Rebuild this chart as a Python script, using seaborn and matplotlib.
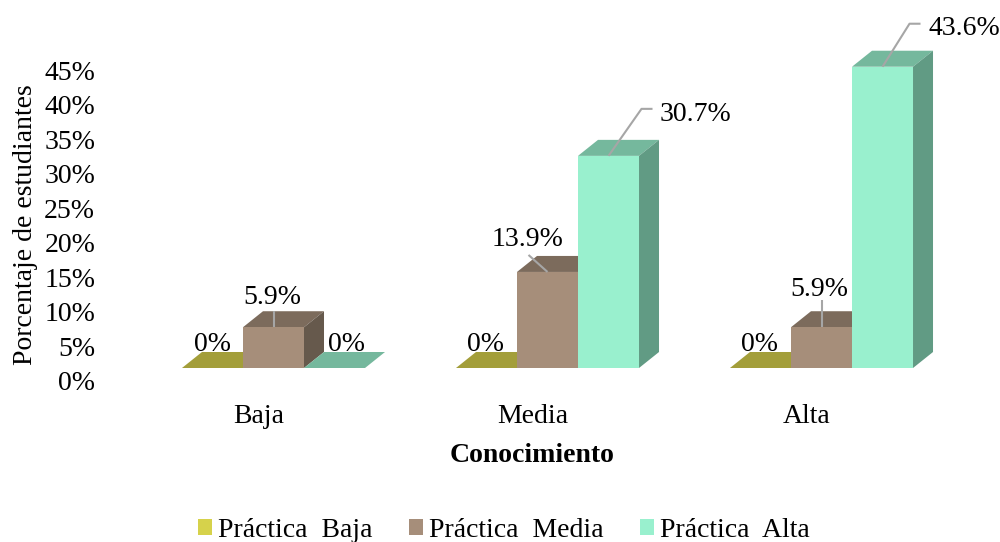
import matplotlib
matplotlib.use("Agg")
import matplotlib.pyplot as plt
import matplotlib.transforms as mtransforms
from matplotlib.patches import Polygon, Patch
import pandas as pd
import seaborn as sns

# ---- data ----
categories = ["Baja", "Media", "Alta"]
practica_baja = [0, 0, 0]
practica_media = [5.9, 13.9, 5.9]
practica_alta = [0, 30.7, 43.6]
series_names = ["Práctica  Baja", "Práctica  Media", "Práctica  Alta"]
y_ticks = list(range(0, 50, 5))

# ---- style ----
front = ["#D6D24B", "#A68E7A", "#99F0CE"]
top = ["#A39E3A", "#7C6B5C", "#75B89D"]
side = ["#7E7A2E", "#66594C", "#619B84"]
leader = "#A6A6A6"
FS = 20
W, H = 1000, 542
DX, DY = 20, 16

sns.set_theme(style="white")
plt.rcParams["font.family"] = ["Liberation Serif", "DejaVu Serif"]
plt.rcParams["text.color"] = "black"

df = pd.DataFrame({
    "cat": categories * 3,
    "val": practica_baja + practica_media + practica_alta,
    "serie": sum([[s] * 3 for s in series_names], []),
})

fig = plt.figure(figsize=(W / 100, H / 100), dpi=100, facecolor="white")
ax = fig.add_axes([100 / W, (H - 400) / H, 900 / W, 400 / H])
sns.barplot(data=df, x="cat", y="val", hue="serie", order=categories,
            hue_order=series_names, palette=front, saturation=1,
            width=0.668, gap=0, legend=False, ax=ax, zorder=3, linewidth=0)

ax.set_xlim((100 - 273.5) / 274, (1000 - 273.5) / 274)
ax.set_ylim((368 - 400) / 6.91, 368 / 6.91)
for s in ax.spines.values():
    s.set_visible(False)
ax.set_yticks(y_ticks, [f"{v}%" for v in y_ticks])
ax.tick_params(axis="both", length=0, labelsize=FS, colors="black")
ax.tick_params(axis="y", pad=3.5)
ax.tick_params(axis="x", pad=3.2)
for t in ax.get_yticklabels():
    t.set_transform(t.get_transform() + mtransforms.Affine2D().translate(0, -13))
for t in ax.get_xticklabels():
    t.set_transform(t.get_transform() + mtransforms.Affine2D().translate(-15, 0))

ax.set_ylabel("Porcentaje de estudiantes", fontsize=FS, color="black", va="center")
ax.yaxis.set_label_coords((26 - 100) / 900, (400 - 225) / 400)
ax.set_xlabel("Conocimiento", fontsize=FS, fontweight="bold", color="black")
ax.xaxis.set_label_coords((532 - 100) / 900, (400 - 455) / 400)
ax.xaxis.label.set_va("center")

# 3-D faces built from the bars that seaborn drew
fig.canvas.draw()
ident = mtransforms.IdentityTransform()
# label offsets in pixels from the front-top-centre of each bar: (text dx, dy, leader points)
layout = {
    (0, 0): ((0, 23.5), []),
    (1, 0): ((-1, 30), [(0, 0), (0, 16)]),
    (2, 0): ((12, 23.5), []),
    (0, 1): ((-1, 23.5), []),
    (1, 1): ((-20, 32), [(0, 0), (-19, 17)]),
    (2, 1): ((87, 41.5), [(0, 0), (33, 47), (44, 47)]),
    (0, 2): ((-1, 23.5), []),
    (1, 2): ((-2, 37.5), [(0, 0), (0, 27)]),
    (2, 2): ((82, 38.5), [(0, 0), (27, 43), (38, 43)]),
}
for i, cont in enumerate(ax.containers):
    for j, bar in enumerate(cont):
        (x0, y0), (x1, y1) = ax.transData.transform(
            [(bar.get_x(), 0), (bar.get_x() + bar.get_width(), bar.get_height())])
        z = 3 + i * 0.1 + j
        bar.set_zorder(z + 0.02)
        ax.add_patch(Polygon([(x0, y1), (x1, y1), (x1 + DX, y1 + DY), (x0 + DX, y1 + DY)],
                             closed=True, fc=top[i], ec="none", transform=ident, zorder=z))
        if bar.get_height() > 0:
            ax.add_patch(Polygon([(x1, y0), (x1 + DX, y0 + DY), (x1 + DX, y1 + DY), (x1, y1)],
                                 closed=True, fc=side[i], ec="none", transform=ident, zorder=z + 0.01))
        xc = (x0 + x1) / 2
        (tdx, tdy), pts = layout[(i, j)]
        base_y = y1
        if pts:
            ax.plot([xc + p[0] for p in pts], [base_y + p[1] for p in pts], color=leader,
                    lw=1.5, transform=ident, zorder=20, solid_capstyle="butt", clip_on=False)
        val = bar.get_height()
        lab = "0%" if val == 0 else f"{val:.1f}%"
        ax.text(xc + tdx, base_y + tdy, lab, transform=ident, ha="center", va="center",
                fontsize=FS, color="black", zorder=30, clip_on=False)

handles = [Patch(fc=c, ec="none", label=n) for c, n in zip(front, series_names)]
fig.legend(handles=handles, loc="center", bbox_to_anchor=(504 / W, (H - 530.5) / H),
           ncol=3, frameon=False, fontsize=FS, handlelength=0.5, handleheight=0.5,
           handletextpad=0.22, columnspacing=1.3, borderpad=0, labelcolor="black")

fig.savefig("out.png", dpi=100, facecolor="white")
